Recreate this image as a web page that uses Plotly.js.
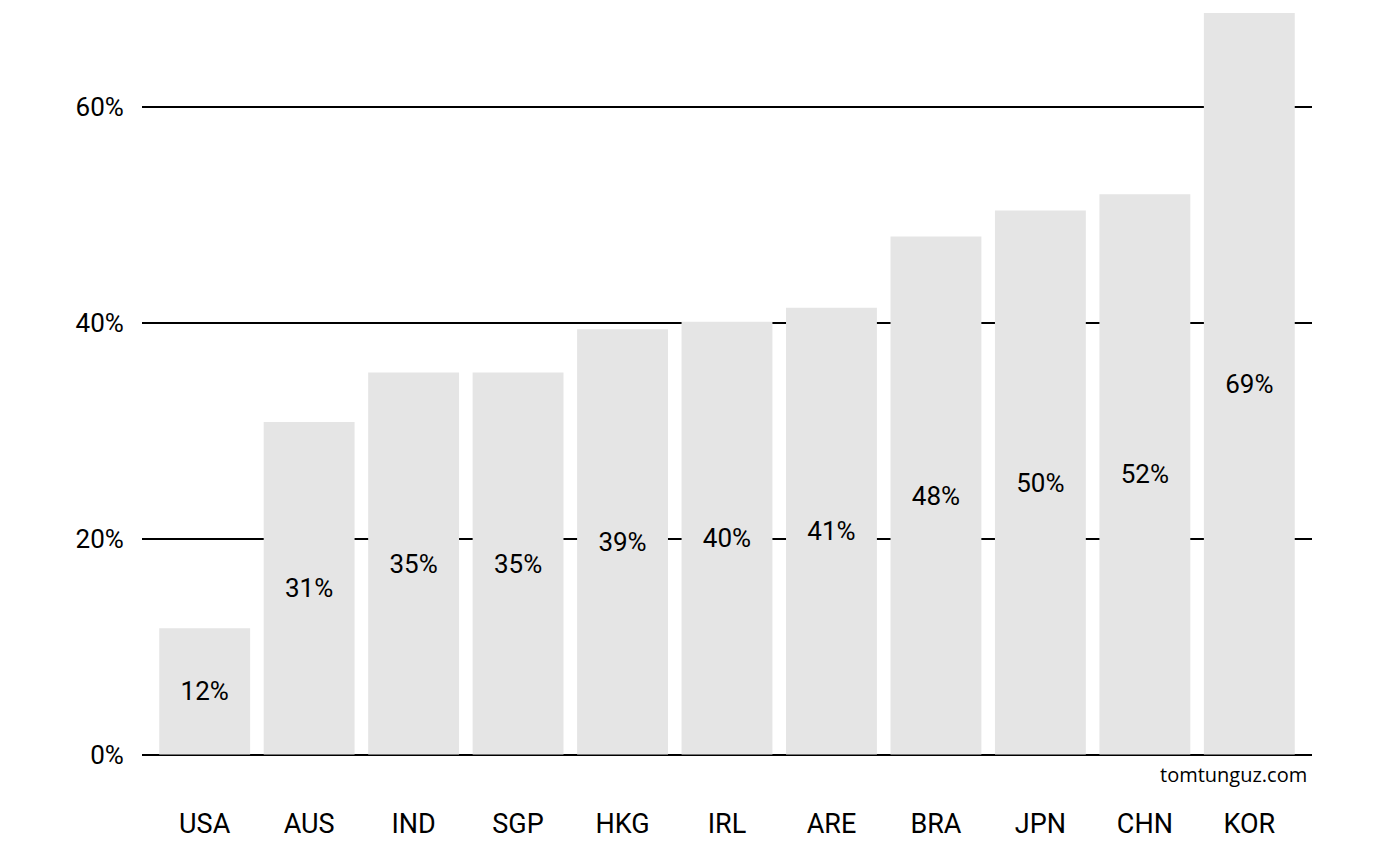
<!DOCTYPE html>
<html>
<head>
<meta charset="utf-8">
<script src="https://cdn.plot.ly/plotly-3.0.1.min.js"></script>
<style>html,body{margin:0;padding:0;background:#fff;}#chart{width:1388px;height:845px;}</style>
</head>
<body>
<div id="chart"></div>
<script>
const countries = ["USA","AUS","IND","SGP","HKG","IRL","ARE","BRA","JPN","CHN","KOR"];
const shares = [11.7, 30.8, 35.4, 35.4, 39.4, 40.1, 41.4, 48.0, 50.4, 51.9, 68.7];
const yTicks = [0, 20, 40, 60];
const yTickLabels = ["0%", "20%", "40%", "60%"];
const source = "tomtunguz.com";

const FONT = "Roboto, 'DejaVu Sans', sans-serif";

const trace = {
  type: "bar",
  x: countries,
  y: shares,
  text: shares.map(v => Math.round(v) + "%"),
  textposition: "inside",
  insidetextanchor: "middle",
  textangle: 0,
  textfont: {family: FONT, size: 26, color: "#000"},
  marker: {color: "#e5e5e5", line: {width: 0}},
  hoverinfo: "skip",
  cliponaxis: false
};

const layout = {
  width: 1388,
  height: 845,
  margin: {l: 141.8, r: 75.8, t: 0, b: 57.6},
  paper_bgcolor: "#fff",
  plot_bgcolor: "#fff",
  showlegend: false,
  bargap: 0.13,
  font: {family: FONT, color: "#000"},
  xaxis: {
    type: "category",
    range: [-0.6, 10.6],
    showgrid: false,
    zeroline: false,
    showline: false,
    ticks: "outside",
    ticklen: 13,
    tickcolor: "rgba(0,0,0,0)",
    tickfont: {family: FONT, size: 27, color: "#000"}
  },
  yaxis: {
    range: [-3, 69.9],
    tickvals: yTicks,
    ticktext: yTickLabels,
    showgrid: true,
    gridcolor: "#000",
    gridwidth: 2,
    zeroline: false,
    showline: false,
    ticks: "outside",
    ticklen: 12,
    tickcolor: "rgba(0,0,0,0)",
    tickfont: {family: FONT, size: 26, color: "#000"}
  },
  annotations: [{
    text: source,
    xref: "paper", yref: "y",
    x: 1, y: -1.8,
    xanchor: "right", yanchor: "middle",
    xshift: -3,
    showarrow: false,
    font: {family: "'Open Sans', sans-serif", size: 20, color: "#000"}
  }]
};

Plotly.newPlot("chart", [trace], layout, {displayModeBar: false, staticPlot: true});
</script>
</body>
</html>
